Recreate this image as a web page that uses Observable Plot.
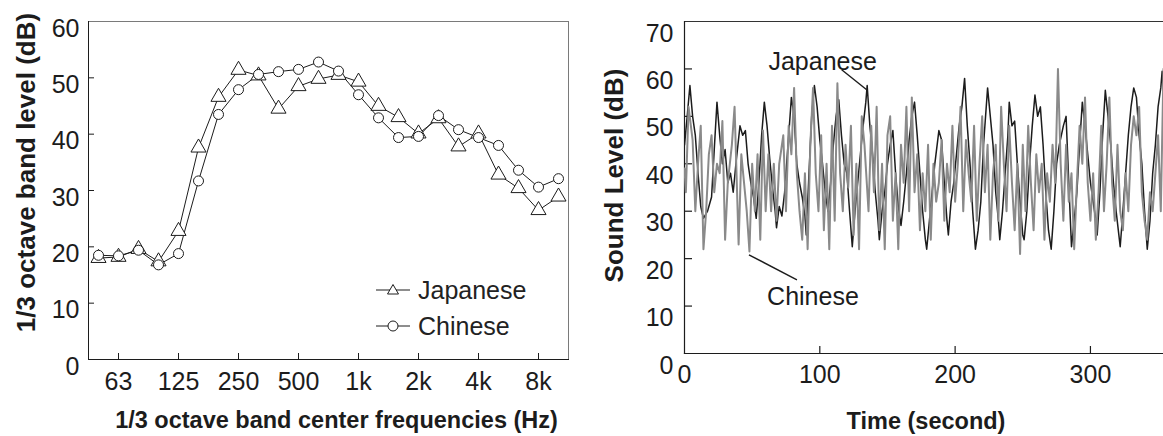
<!DOCTYPE html>
<html>
<head>
<meta charset="utf-8">
<script src="https://cdn.jsdelivr.net/npm/d3@7"></script>
<script src="https://cdn.jsdelivr.net/npm/@observablehq/plot@0.6"></script>
<style>
  html, body { margin: 0; padding: 0; background: #fff; }
  #wrap { position: relative; width: 1163px; height: 436px; overflow: hidden;
          font-family: "Liberation Sans", Arial, Helvetica, sans-serif; }
  #left { position: absolute; left: 0; top: 0; }
  #right { position: absolute; left: 590px; top: 0; }
  #legend { position: absolute; left: 376px; top: 272px; font-size: 25px; color: #222; }
  #legend div { display: flex; align-items: center; height: 36px; }
  #legend svg { margin-right: 8px; }
</style>
</head>
<body>
<div id="wrap">
  <div id="left"></div>
  <div id="right"></div>
  <div id="legend"></div>
</div>
<script>
// ---------- Left panel: 1/3 octave band spectrum ----------
const bands = ["50","63","80","100","125","160","200","250","315","400","500","630",
               "800","1k","1.25k","1.6k","2k","2.5k","3.15k","4k","5k","6.3k","8k","10k"];
const bandTicks = ["63","125","250","500","1k","2k","4k","8k"];
const japaneseBand = [18, 18.2, 19.6, 17.4, 22.8, 37.6, 46.6, 51.4, 50.4, 44.5, 48.5, 49.8,
                      50.5, 49.3, 45.0, 43.0, 40.1, 42.8, 37.8, 40.1, 32.8, 30.4, 26.5, 28.9];
const chineseBand  = [18.5, 18.4, 19.4, 16.8, 18.8, 31.7, 43.5, 47.9, 50.6, 51.1, 51.5, 52.8,
                      51.2, 47.0, 42.9, 39.4, 39.6, 43.3, 40.8, 39.4, 38.0, 33.6, 30.6, 32.1];
const levelTicksLeft = [0, 10, 20, 30, 40, 50, 60];

// ---------- Right panel: sound level time series ----------
const jpTime = [
  0,2,4,6,8,10,12,14,17,20,
  22,24,26,28,30,32,34,36,38,41,
  43,45,47,49,51,53,55,57,59,61,
  63,65,67,68,70,72,74,76,79,81,
  83,85,87,89,90,92,94,96,98,100,
  102,104,106,108,110,112,114,116,118,120,
  122,124,126,128,130,132,134,135,137,139,
  141,143,144,146,148,150,152,154,156,158,
  160,162,164,166,168,170,172,174,176,178,
  179,181,183,185,188,190,192,194,195,197,
  199,201,203,205,207,209,211,213,215,217,
  219,221,224,226,228,230,232,233,235,237,
  239,240,242,244,246,248,250,251,253,255,
  257,259,261,263,265,267,269,271,273,275,
  277,280,282,284,286,288,290,292,294,296,
  298,300,302,304,305,307,309,311,313,315,
  317,319,321,322,324,326,328,330,332,334,
  336,338,340,342,344,346,348,350,352,353,
  355];
const jpLevel = [
  44,50,56.5,50,46,38,31,28.5,30,33,
  43,53,46,40,43,36,38,34,40,48,
  46,47,40,36,33,28.5,36,46,53,48,
  41,35,30,26.5,31,29,34,42,54,50,
  40,36,33,29,25,38,50,56.5,52,45,
  40,34,30,36,44,50,53.5,46,40,38,
  30,22.5,30,36,42,48,53,56.5,48,42,
  34,28,24,30,34,40,44,47,38,31,
  27,32,38,45,50,53,46,38,30,24,
  22,28,34,40,47,45,36,28,25,32,
  36,42,48,52,58,48,40,30,22,26,
  32,44,56,50,44,34,28,24,30,38,
  46,53,48,49,40,32,25,24,30,40,
  48,54.5,50,52,44,34,26,22,30,40,
  44,48,50,36,22.5,28,34,44,53,48,
  42,36,32,28,25,34,46,55.5,50,44,
  36,30,25,22.5,30,38,46,52,56,54,
  46,40,30,22,28,38,44,52,56,59.5,
  52];
const cnTime = [
  0,1,3,6,8,10,12,14,16,18,
  20,22,24,26,28,30,32,35,37,40,
  42,44,46,48,50,52,54,56,58,60,
  62,64,66,68,70,73,75,77,79,81,
  83,85,87,89,91,93,95,97,99,101,
  103,105,107,109,111,113,115,117,119,121,
  123,125,127,129,131,133,136,138,140,142,
  144,146,148,150,152,154,156,158,160,162,
  164,166,168,170,172,174,176,178,180,182,
  184,186,188,190,192,194,196,198,200,202,
  204,206,208,210,212,214,216,218,220,222,
  224,226,228,230,232,234,236,238,240,242,
  244,246,248,250,252,254,256,258,260,262,
  264,266,268,270,272,274,276,278,280,282,
  284,286,288,290,292,294,296,298,300,302,
  304,306,308,310,312,314,316,318,320,322,
  324,326,328,330,332,334,336,338,340,342,
  344,346,348,350,352,354,355];
const cnLevel = [
  39,34,52,45,30,40,48,22,30,42,
  46,34,40,38,49,24,36,44,52,23,
  42,36,30,21.5,40,30,42,24,47,30,
  42,30,40,28,40,46,30,48,42,56,
  38,30,24,38,22,44,56,38,30,46,
  26,40,22,48,28,57,38,30,44,35,
  48,25,40,22,50,44,30,48,34,52,
  26,40,22,46,50,28,38,22,44,36,
  52,30,54,34,42,26,38,30,44,24,
  40,32,36,45,28,40,34,48,32,40,
  52,30,45,38,32,48,28,40,50,34,
  44,24,38,44,28,52,40,30,48,36,
  26,40,21,44,30,48,36,26,42,34,
  40,24,38,32,44,36,60,40,28,44,
  32,38,22,36,48,40,54,36,28,38,
  24,34,48,30,40,54,36,28,44,30,
  26,38,30,44,50,46,52,34,28,24,
  34,30,38,46,30,60,58];
const timeTicks = [0, 100, 200, 300];
const levelTicksRight = [0, 10, 20, 30, 40, 50, 60, 70];
const annoLabels = ["Japanese", "Chinese"];
const annoTimes  = [135.0, 48.0];
const annoLevels = [55.5, 20.7];

// ---------- styles ----------
const FONT = '"Liberation Sans", Arial, Helvetica, sans-serif';
const INK = "#1c1c1c";
const GRAY = "#8a8a8a";

// ---------- build left chart ----------
const spectrum = bands.flatMap((b, i) => [
  {band: b, level: japaneseBand[i], lang: "Japanese"},
  {band: b, level: chineseBand[i], lang: "Chinese"}
]);
const jpRows = spectrum.filter(d => d.lang === "Japanese");
const cnRows = spectrum.filter(d => d.lang === "Chinese");

const L = {w: 590, h: 436, ml: 88, mr: 22, mt: 21, mb: 77};
const leftFrameH = L.h - L.mt - L.mb;
const leftFrameW = L.w - L.ml - L.mr;

const left = Plot.plot({
  width: L.w, height: L.h,
  marginLeft: L.ml, marginRight: L.mr, marginTop: L.mt, marginBottom: L.mb,
  style: {fontFamily: FONT, fontSize: "25px", color: INK, background: "white", overflow: "visible"},
  x: {type: "point", domain: bands, padding: 0},
  y: {domain: [0, 60]},
  marks: [
    Plot.frame({anchor: "top", stroke: "#7a7a7a"}),
    Plot.frame({anchor: "right", stroke: "#7a7a7a"}),
    Plot.frame({anchor: "left", stroke: INK}),
    Plot.frame({anchor: "bottom", stroke: INK}),
    Plot.tickY(levelTicksLeft.slice(1, -1), {y: d => d, stroke: INK, insetRight: leftFrameW - 6}),
    Plot.tickX(bandTicks, {x: d => d, stroke: INK, insetTop: leftFrameH - 6}),
    Plot.axisY(levelTicksLeft, {tickSize: 0, tickPadding: 9, dy: 7, fontSize: 25, label: null}),
    Plot.axisX(bandTicks, {tickSize: 0, tickPadding: 13, fontSize: 25, label: null}),
    Plot.line(cnRows, {x: "band", y: "level", stroke: INK, strokeWidth: 1}),
    Plot.line(jpRows, {x: "band", y: "level", stroke: INK, strokeWidth: 1}),
    Plot.dot(jpRows, {x: "band", y: "level", symbol: "triangle", r: 5.6, fill: "white", stroke: INK, strokeWidth: 1}),
    Plot.dot(cnRows, {x: "band", y: "level", symbol: "circle", r: 5, fill: "white", stroke: INK, strokeWidth: 1}),
    Plot.text(["1/3 octave band level (dB)"], {frameAnchor: "left", text: d => d, rotate: -90,
      dx: -62, dy: -18, fontSize: 26, fontWeight: "bold", fill: INK, textAnchor: "middle", lineAnchor: "middle"}),
    Plot.text(["1/3 octave band center frequencies (Hz)"], {frameAnchor: "bottom", text: d => d,
      dx: 8, dy: 61, fontSize: 23.5, fontWeight: "bold", fill: INK, textAnchor: "middle", lineAnchor: "middle"})
  ]
});
document.getElementById("left").appendChild(left);

// legend (HTML overlay, drawn with the same symbols)
const legendItems = [{label: "Japanese", symbol: "triangle"}, {label: "Chinese", symbol: "circle"}];
const legendEl = document.getElementById("legend");
for (const item of legendItems) {
  const row = document.createElement("div");
  const sym = item.symbol === "triangle"
    ? `<polygon points="17,3.5 22.5,13 11.5,13" fill="white" stroke="${INK}" stroke-width="1"/>`
    : `<circle cx="17" cy="9" r="5" fill="white" stroke="${INK}" stroke-width="1"/>`;
  row.innerHTML = `<svg width="34" height="18"><line x1="0" y1="9" x2="34" y2="9" stroke="${INK}" stroke-width="1"/>${sym}</svg><span>${item.label}</span>`;
  legendEl.appendChild(row);
}

// ---------- build right chart ----------
const jpSeries = jpTime.map((t, i) => ({time: t, level: jpLevel[i]}));
const cnSeries = cnTime.map((t, i) => ({time: t, level: cnLevel[i]}));
const annos = annoLabels.map((label, i) => ({label, time: annoTimes[i], level: annoLevels[i]}));

const R = {w: 573, h: 436, ml: 94, mr: 0, mt: 21, mb: 83};
const rightFrameH = R.h - R.mt - R.mb;
const rightFrameW = R.w - R.ml - R.mr;
// leader line offsets in pixels (from the data point toward the label)
const leader = {Japanese: {dx: -25, dy: -20, tx: -44, ty: -29}, Chinese: {dx: 48, dy: 25, tx: 64, ty: 41}};

const right = Plot.plot({
  width: R.w, height: R.h,
  marginLeft: R.ml, marginRight: R.mr, marginTop: R.mt, marginBottom: R.mb,
  style: {fontFamily: FONT, fontSize: "25px", color: INK, background: "white", overflow: "hidden"},
  x: {domain: [0, 354]},
  y: {domain: [0, 70]},
  marks: [
    Plot.frame({anchor: "top", stroke: "#333"}),
    Plot.frame({anchor: "left", stroke: INK, strokeWidth: 1.2}),
    Plot.frame({anchor: "bottom", stroke: INK, strokeWidth: 1.2}),
    Plot.tickY(levelTicksRight.slice(1, -1), {y: d => d, stroke: INK, strokeWidth: 1.2, insetRight: rightFrameW - 8}),
    Plot.tickX(timeTicks.slice(1), {x: d => d, stroke: INK, strokeWidth: 1.2, insetTop: rightFrameH - 7}),
    Plot.axisY(levelTicksRight, {tickSize: 0, tickPadding: 11, dy: 12, fontSize: 25, label: null}),
    Plot.axisX(timeTicks, {tickSize: 0, tickPadding: 12, fontSize: 25, label: null}),
    Plot.line(jpSeries, {x: "time", y: "level", stroke: INK, strokeWidth: 1.5, clip: true}),
    Plot.line(cnSeries, {x: "time", y: "level", stroke: GRAY, strokeWidth: 2, clip: true}),
    // leader lines from the annotated data points
    (index, scales) => {
      const g = d3.create("svg:g");
      for (const a of annos) {
        const x = scales.x(a.time), y = scales.y(a.level), o = leader[a.label];
        g.append("line").attr("x1", x).attr("y1", y).attr("x2", x + o.dx).attr("y2", y + o.dy)
          .attr("stroke", INK).attr("stroke-width", 1.4);
        g.append("text").attr("x", x + o.tx).attr("y", y + o.ty).attr("dy", "0.35em")
          .attr("text-anchor", "middle").attr("font-size", 25).attr("fill", INK).text(a.label);
      }
      return g.node();
    },
    Plot.text(["Sound Level (dB)"], {frameAnchor: "left", text: d => d, rotate: -90,
      dx: -70, dy: -12, fontSize: 26, fontWeight: "bold", fill: INK, textAnchor: "middle", lineAnchor: "middle"}),
    Plot.text(["Time (second)"], {frameAnchor: "bottom", text: d => d,
      dx: 2, dy: 68, fontSize: 23.5, fontWeight: "bold", fill: INK, textAnchor: "middle", lineAnchor: "middle"})
  ]
});
document.getElementById("right").appendChild(right);
</script>
</body>
</html>
